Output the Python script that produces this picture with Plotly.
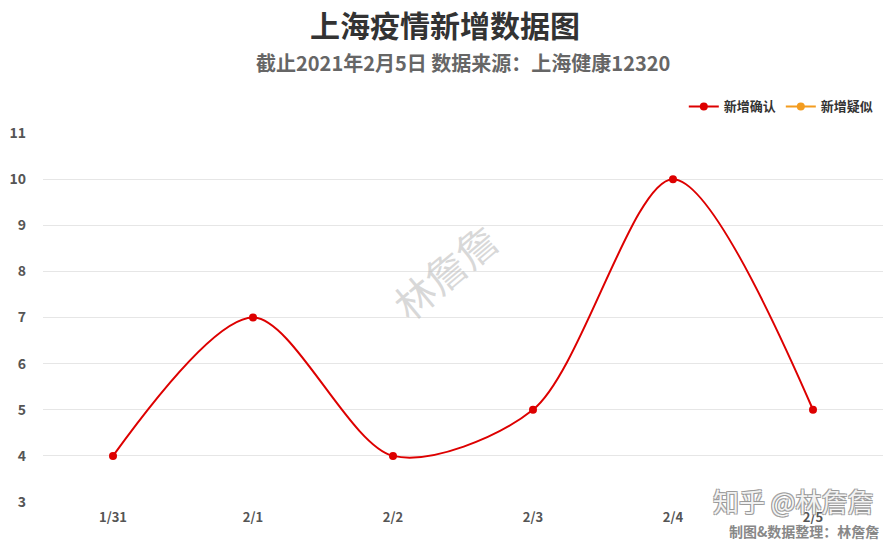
import plotly.graph_objects as go

categories = ["1/31", "2/1", "2/2", "2/3", "2/4", "2/5"]
confirmed = [4, 7, 4, 5, 10, 5]
suspected = [0, 0, 0, 0, 0, 0]
y_ticks = [3, 4, 5, 6, 7, 8, 9, 10, 11]

FONT = "Noto Sans CJK SC, Microsoft YaHei, sans-serif"

fig = go.Figure()
fig.add_trace(go.Scatter(
    x=categories, y=confirmed, name="<b>新增确认</b>", mode="lines+markers",
    line=dict(color="#dd0000", width=2, shape="spline", smoothing=0.85),
    marker=dict(color="#dd0000", size=8),
))
fig.add_trace(go.Scatter(
    x=categories, y=suspected, name="<b>新增疑似</b>", mode="lines+markers",
    line=dict(color="#f39c1f", width=2, shape="spline", smoothing=0.85),
    marker=dict(color="#f39c1f", size=8),
))

fig.update_layout(
    width=890, height=540,
    paper_bgcolor="white", plot_bgcolor="white",
    margin=dict(l=43, r=7, t=133, b=38),
    font=dict(family=FONT, color="#555"),
    title=dict(
        text="<b>上海疫情新增数据图</b>",
        x=0.5, xanchor="center", y=0.951, yanchor="middle",
        font=dict(size=30, color="#333", family=FONT),
    ),
    showlegend=True,
    legend=dict(
        orientation="h", x=0.995, xanchor="right", y=1.072, yanchor="middle",
        font=dict(size=13, color="#333", family=FONT),
        itemwidth=30, bgcolor="rgba(0,0,0,0)",
    ),
    xaxis=dict(
        type="category", range=[-0.5, 5.5],
        showgrid=False, showline=False, zeroline=False,
        tickfont=dict(size=13, color="#555", family=FONT, weight="bold"),
        ticks="", ticklabelstandoff=6,
    ),
    yaxis=dict(
        range=[3, 11], tickvals=y_ticks,
        showgrid=True, gridcolor="#e6e6e6", gridwidth=1,
        zeroline=False, showline=False,
        tickfont=dict(size=14, color="#555", family=FONT, weight="bold"),
        ticks="", ticklabelstandoff=16,
    ),
)

# subtitle
fig.add_annotation(
    text="<b>截止2021年2月5日 数据来源：上海健康12320</b>",
    xref="paper", yref="paper", x=0.5, y=1.0, yshift=133 - 62,
    showarrow=False, font=dict(size=20, color="#666", family=FONT),
    xanchor="center", yanchor="middle",
)

# diagonal watermark
fig.add_annotation(
    text="林詹詹", xref="x", yref="y", x=2.37, y=8.0,
    showarrow=False, textangle=-40,
    font=dict(size=40, color="rgba(190,190,190,0.6)", family=FONT),
)

# zhihu watermark
fig.add_annotation(
    text="知乎 @林詹詹", xref="paper", yref="paper", x=1.0, y=0.0,
    xanchor="right", yanchor="middle", xshift=-8, yshift=2,
    showarrow=False,
    font=dict(size=26, color="rgba(255,255,255,0.9)", family=FONT,
              shadow="1px 1px 0 #999, -1px -1px 0 #999, 1px -1px 0 #999, -1px 1px 0 #999"),
)

# credit
fig.add_annotation(
    text="<b>制图&数据整理：林詹詹</b>", xref="paper", yref="paper", x=1.0, y=0.0,
    xanchor="right", yanchor="middle", xshift=-2, yshift=-29,
    showarrow=False, font=dict(size=14, color="#888", family=FONT),
)

fig.write_html("out.html", config={"displayModeBar": False},
               post_script="document.body.style.margin='0';")
